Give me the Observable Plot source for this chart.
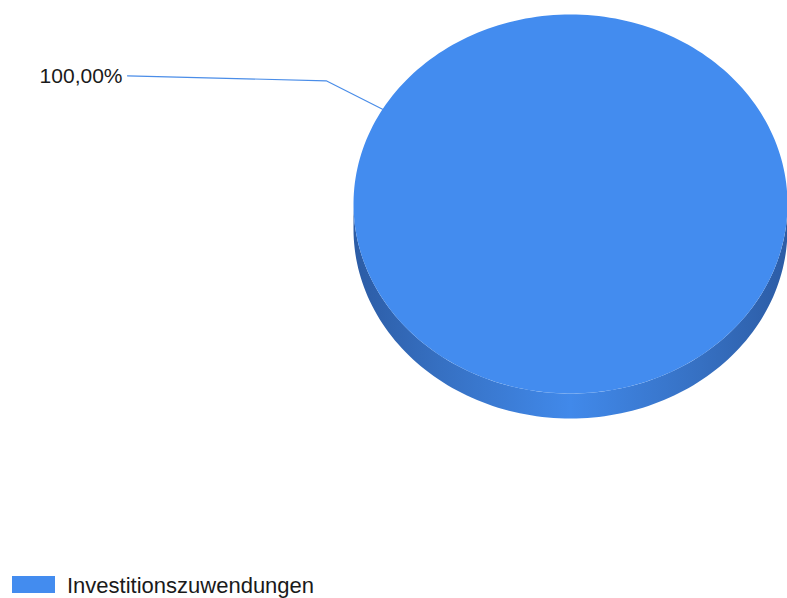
<!DOCTYPE html>
<html>
<head>
<meta charset="utf-8">
<script src="https://cdn.jsdelivr.net/npm/d3@7"></script>
<script src="https://cdn.jsdelivr.net/npm/@observablehq/plot@0.6"></script>
<style>
  html, body { margin: 0; padding: 0; background: #fff; }
  body { width: 787px; height: 598px; overflow: hidden; font-family: "Liberation Sans", Arial, sans-serif; }
  #legend { display: flex; align-items: flex-start; margin-top: 7px; }
  #legend .sw { width: 43px; height: 17px; margin-left: 12px; margin-top: 1px; }
  #legend .lb { margin-left: 12px; font-size: 22px; line-height: 21px; color: #1a1a1a; }
</style>
</head>
<body>
<div id="chart"></div>
<div id="legend"></div>
<script>
// ---- data ----
const categories = ["Investitionszuwendungen"];
const values = [100];
const colors = ["#438cef"];

// ---- layout / style constants ----
const W = 787, H = 568;
const cxPx = 570, cyPx = 203.5, rxPx = 217, ryPx = 189.5;
const depth = 25 / ryPx;          // cylinder thickness in data units
const labelAngle = -Math.PI / 3;  // where the leader line touches the rim
const elbowScale = 1.3;
const labelX = (127 - cxPx) / rxPx;
const labelRise = 5 / ryPx;

const total = d3.sum(values);
const fmt = v => (v / total * 100).toFixed(2).replace(".", ",") + "%";
const slices = d3.pie().sort(null).value(d => d)(values).map((s, i) => ({...s, category: categories[i], color: colors[i]}));

const rim = (a, dy = 0) => ({x: Math.sin(a), y: Math.cos(a) - dy});
const N = 240;

// top faces
const topPts = [];
slices.forEach((s, i) => {
  topPts.push({x: 0, y: 0, k: i});
  const n = Math.max(2, Math.ceil(N * (s.endAngle - s.startAngle) / (2 * Math.PI)));
  for (let j = 0; j <= n; j++) {
    const a = s.startAngle + (s.endAngle - s.startAngle) * j / n;
    topPts.push({...rim(a), k: i});
  }
});

// front sides (visible part: angles between PI/2 and 3PI/2)
const sidePts = [];
slices.forEach((s, i) => {
  const a0 = Math.max(s.startAngle, Math.PI / 2), a1 = Math.min(s.endAngle, 3 * Math.PI / 2);
  if (a1 <= a0) return;
  const n = Math.max(2, Math.ceil(N * (a1 - a0) / (2 * Math.PI)));
  const upper = [], lower = [];
  for (let j = 0; j <= n; j++) {
    const a = a0 + (a1 - a0) * j / n;
    upper.push({...rim(a), k: i});
    lower.push({...rim(a, depth), k: i});
  }
  sidePts.push(...upper, ...lower.reverse());
});

// label + leader line
const anchor = rim(labelAngle);
const elbow = {x: anchor.x * elbowScale, y: anchor.y * elbowScale};
const leader = [
  {x: labelX, y: elbow.y + labelRise},
  elbow,
  anchor
];
const labelData = [{x: labelX - 5 / rxPx, y: elbow.y + labelRise, text: fmt(values[0])}];

const gradient = () => {
  const g = d3.create("svg:defs");
  const lg = g.append("linearGradient").attr("id", "sideGrad").attr("x1", "0").attr("x2", "1").attr("y1", "0").attr("y2", "0");
  [[0, "#2c5ca5"], [0.2, "#3670c2"], [0.5, "#4189ea"], [0.8, "#3670c2"], [1, "#2c5ca5"]]
    .forEach(([o, c]) => lg.append("stop").attr("offset", o).attr("stop-color", c));
  return g.node();
};

const chart = Plot.plot({
  width: W,
  height: H,
  margin: 0,
  x: {domain: [-cxPx / rxPx, (W - cxPx) / rxPx], axis: null},
  y: {domain: [-(H - cyPx) / ryPx, cyPx / ryPx], axis: null},
  style: {background: "#fff", fontFamily: "'Liberation Sans', Arial, sans-serif"},
  marks: [
    gradient,
    Plot.line(sidePts, {x: "x", y: "y", z: "k", fill: "url(#sideGrad)", stroke: "none"}),
    Plot.line(topPts, {x: "x", y: "y", z: "k", fill: d => colors[d.k], stroke: "none"}),
    Plot.line(leader, {x: "x", y: "y", stroke: "#4a8de8", strokeWidth: 1.2}),
    Plot.text(labelData, {x: "x", y: "y", text: "text", textAnchor: "end", fontSize: 21, fill: "#1a1a1a"})
  ]
});
document.getElementById("chart").appendChild(chart);

const legend = d3.select("#legend");
slices.forEach(s => {
  legend.append("div").attr("class", "sw").style("background", s.color);
  legend.append("div").attr("class", "lb").text(s.category);
});
</script>
</body>
</html>
